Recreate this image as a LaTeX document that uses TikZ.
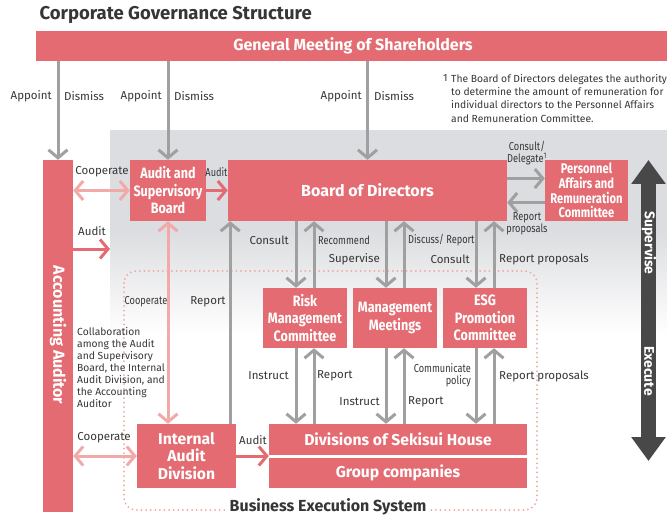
\documentclass[tikz,border=0pt]{standalone}
\usepackage{fontspec}
\setmainfont{Fira Sans}
\newfontfamily\narrowfont{Fira Sans}[FakeStretch=0.8]
\newfontfamily\boxfont{Fira Sans}[FakeStretch=0.84]
\usetikzlibrary{arrows.meta, positioning, calc}
\definecolor{cgPink}{HTML}{E36B71}
\definecolor{cgLight}{HTML}{F1AAA8}
\definecolor{cgDot}{HTML}{F2A5A3}
\definecolor{cgGray}{HTML}{A0A0A0}
\definecolor{cgPanel}{HTML}{DCDDE0}
\definecolor{cgDark}{HTML}{484848}
\definecolor{cgInk}{HTML}{363636}

\begin{document}
\begin{tikzpicture}[
  x=1pt, y=-1pt,
  >={Straight Barb[length=8pt, width=19pt]},
  box/.style={fill=cgPink, text=white, align=center, inner sep=0pt,
              font=\boxfont\bfseries\fontsize{15}{17.5}\selectfont},
  wbox/.style={box, font=\bfseries\fontsize{15.7}{17.5}\selectfont},
  lbl/.style={text=cgInk, inner sep=1pt, font=\fontsize{11.5}{13}\selectfont},
  nlbl/.style={text=cgInk, inner sep=1pt, align=center,
               font=\narrowfont\fontsize{11.5}{12.5}\selectfont},
  garr/.style={->, draw=cgGray, line width=3pt},
  parr/.style={<->, draw=cgLight, line width=3pt},
  rarr/.style={->, draw=cgPink, line width=3pt},
]
\useasboundingbox (0,0) rectangle (667,516);

% ======================= background =====================================
\fill[cgPanel] (110,130) rectangle (667,230);
\shade[top color=cgPanel, bottom color=white] (110,229.5) rectangle (667,335);
\draw[cgDot, line width=2pt, line cap=round, dash pattern=on 0pt off 4.6pt,
      rounded corners=12pt] (124,271) rectangle (537,510);

\node[anchor=base west, text=cgInk, font=\bfseries\fontsize{18.5}{21}\selectfont]
  (title) at (36,20) {Corporate Governance Structure};

% ======================= boxes ==========================================
\node[wbox, minimum width=634pt, minimum height=30pt] (gm) at (353,46)
  {\fontsize{16}{18}\selectfont General Meeting of Shareholders};
\node[box, minimum width=30pt, minimum height=352pt] (aa) at (58,336) {};
\node[wbox, rotate=-90, font=\bfseries\fontsize{16}{18}\selectfont]
  (aatext) at (58,335) {Accounting Auditor};
\node[box, minimum width=76pt, minimum height=61pt] (asb) at (168,190.5)
  {\fontsize{15}{16.8}\selectfont Audit and\\Supervisory\\Board};
\node[wbox, minimum width=279pt, minimum height=61pt] (bod) at (367.5,190.5)
  {\fontsize{16}{18}\selectfont Board of Directors};
\node[box, minimum width=83pt, minimum height=61pt,
      font=\narrowfont\bfseries\fontsize{14}{14.7}\selectfont] (parc) at (586.5,190.5)
  {Personnel\\Affairs and\\Remuneration\\Committee};
\node[box, minimum width=84pt, minimum height=60pt] (rmc) at (305,318)
  {Risk\\Management\\Committee};
\node[box, minimum width=84pt, minimum height=60pt] (mtg) at (395,318)
  {Management\\Meetings};
\node[box, minimum width=84pt, minimum height=60pt] (esg) at (485,318)
  {ESG\\Promotion\\Committee};
\node[wbox, minimum width=99pt, minimum height=64pt] (iad) at (186.5,456)
  {Internal\\Audit\\Division};
\node[wbox, minimum width=258pt, minimum height=31pt] (div) at (398,439.5)
  {Divisions of Sekisui House};
\node[wbox, minimum width=258pt, minimum height=30pt] (grp) at (398,473)
  {Group companies};

% ======================= appoint / dismiss ==============================
\foreach \b/\x in {aa/58, asb/168, bod/368} {
  \draw[garr] (gm.south -| \b.north) -- (\b.north);
  \node[lbl, anchor=east] at (\x-5,96) {Appoint};
  \node[lbl, anchor=west] at (\x+5,96) {Dismiss};
}

% footnote
\node[text=cgInk, anchor=base west, inner sep=0pt,
      font=\fontsize{10.3}{13.3}\selectfont] (fn1) at (443,82) {1};
\node[text=cgInk, anchor=north west, inner sep=0pt, align=left,
      font=\fontsize{10.3}{13.3}\selectfont] (fn) at (451,74)
  {The Board of Directors delegates the authority\\
   to determine the amount of remuneration for\\
   individual directors to the Personnel Affairs\\
   and Remuneration Committee.};

% ======================= audit side =====================================
\draw[parr] (aa.east |- asb.west) -- (asb.west);
\node[lbl] at (102,172) {Cooperate};
\draw[rarr] (asb.east) -- (bod.west);
\node[nlbl] at (216.5,172) {Audit};

\coordinate (aaudit) at (110,249);
\draw[rarr] (aa.east |- aaudit) -- (aaudit);
\node[lbl] at (92,231) {Audit};

\draw[parr] (asb.south) -- (asb.south |- iad.north);
\node[nlbl] at (146,302) {Cooperate};
\draw[garr] ([xshift=-6pt]iad.north east) -- ([xshift=-6pt]iad.north east |- bod.south);
\node[lbl] at (208,302) {Report};

\node[text=cgInk, anchor=north west, inner sep=0pt, align=left,
      font=\fontsize{10.3}{12}\selectfont] (collab) at (77,327)
  {Collaboration\\among the Audit\\and Supervisory\\Board, the Internal\\
   Audit Division, and\\the Accounting\\Auditor};

\draw[parr] (aa.east |- iad.west) -- (iad.west);
\node[lbl] at (104,438) {Cooperate};
\draw[rarr] (iad.east) -- (iad.east -| div.west);
\node[lbl] at (253,440) {Audit};

% ======================= board and committees ===========================
\draw[garr] ([yshift=12pt]bod.east) -- ([yshift=12pt]bod.east -| parc.west);
\draw[garr] ([yshift=-12pt]parc.west) -- ([yshift=-12pt]parc.west -| bod.east);
\node[nlbl] at (527,153) {Consult/\\Delegate\textsuperscript{1}};
\node[nlbl] at (527,224) {Report\\proposals};

\foreach \c in {rmc, mtg, esg} {
  \draw[garr] ([xshift=-9pt]\c.north |- bod.south) -- ([xshift=-9pt]\c.north);
  \draw[garr] ([xshift=9pt]\c.north) -- ([xshift=9pt]\c.north |- bod.south);
  \draw[garr] ([xshift=-9pt]\c.south) -- ([xshift=-9pt]\c.south |- div.north);
  \draw[garr] ([xshift=9pt]\c.south |- div.north) -- ([xshift=9pt]\c.south);
}
\node[lbl, anchor=east] at (290,240) {Consult};
\node[nlbl, anchor=west] at (317,240) {Recommend};
\node[lbl, anchor=east] at (381,259) {Supervise};
\node[nlbl, anchor=west] at (407,240) {Discuss/ Report};
\node[lbl, anchor=east] at (471,259) {Consult};
\node[lbl, anchor=west] at (498,259) {Report proposals};

\node[lbl, anchor=east] at (290,376) {Instruct};
\node[lbl, anchor=west] at (316,376) {Report};
\node[lbl, anchor=east] at (381,402) {Instruct};
\node[lbl, anchor=west] at (407,402) {Report};
\node[nlbl, align=right, anchor=east] at (472,375) {Communicate\\policy};
\node[lbl, anchor=west] at (498,376) {Report proposals};

\node[fill=white, text=cgInk, inner sep=2pt,
      font=\bfseries\fontsize{16}{18}\selectfont] (bes) at (328,507)
  {Business Execution System};

% ======================= supervise / execute ============================
\coordinate (suptop) at (648.5,160);
\coordinate (supbot) at (648.5,461);
\draw[draw=cgDark, line width=15pt,
      {Triangle[length=24pt, width=33pt]}-{Triangle[length=24pt, width=33pt]}]
  (supbot) -- (suptop);
\node[rotate=-90, text=white, font=\bfseries\fontsize{14}{16}\selectfont]
  (sup) at (649,243) {Supervise};
\node[rotate=-90, text=white, font=\bfseries\fontsize{14}{16}\selectfont]
  (exe) at (649,371) {Execute};
\end{tikzpicture}
\end{document}
